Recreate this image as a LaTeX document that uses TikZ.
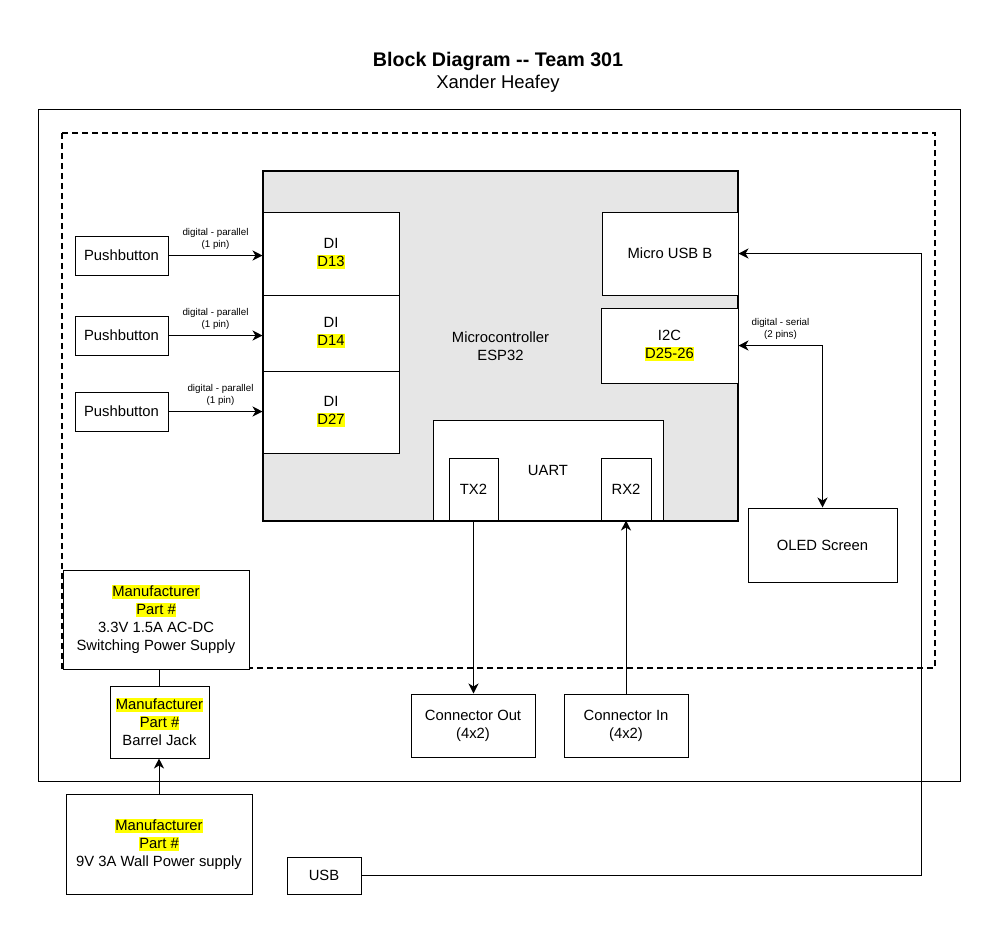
\documentclass[tikz,border=0pt]{standalone}
\usepackage{fontspec}
\setmainfont{Liberation Sans}
\usetikzlibrary{arrows.meta}
\definecolor{mcugray}{HTML}{E6E6E6}
\definecolor{hlyellow}{HTML}{FFFF00}
\newcommand{\hlt}[1]{{\setlength{\fboxsep}{0pt}\colorbox{hlyellow}{\rule[-2.5pt]{0pt}{14pt}#1}}}

\begin{document}
\begin{tikzpicture}[x=1pt,y=-1pt,
  box/.style={draw,line width=1pt,fill=white,inner sep=0pt,align=center,font=\fontsize{14.8}{18}\selectfont},
  lbl/.style={font=\fontsize{9.8}{12}\selectfont,align=center,inner sep=0pt},
  arr/.style={line width=1pt,-{Stealth[length=10pt,width=10pt,inset=3pt]}},
  arrboth/.style={line width=1pt,{Stealth[length=10pt,width=10pt,inset=3pt]}-{Stealth[length=10pt,width=10pt,inset=3pt]}}]

\useasboundingbox (0,0) rectangle (998,930);

\node[font=\fontsize{19.7}{22}\selectfont\bfseries] (title) at (498,61) {Block Diagram -{}- Team 301};
\node[font=\fontsize{18.5}{22}\selectfont] (author) at (498,84) {Xander Heafey};

\draw[line width=1pt] (38,109) rectangle (960,781);
\draw[line width=2pt,dash pattern=on 6pt off 4pt] (62,133) rectangle (935,668);

% microcontroller and its pins
\node[box,fill=mcugray,line width=2pt,minimum width=475pt,minimum height=350pt] (mcu) at (500.5,346) {Microcontroller\\ESP32};
\node[box,minimum width=136pt,minimum height=83pt] (di1) at (331,253.5) {DI\\\hlt{D13}};
\node[box,minimum width=136pt,minimum height=76pt] (di2) at (331,333) {DI\\\hlt{D14}};
\node[box,minimum width=136pt,minimum height=82pt] (di3) at (331,412) {DI\\\hlt{D27}};
\node[box,minimum width=136pt,minimum height=83pt] (usbb) at (670,253.5) {Micro USB B};
\node[box,minimum width=137pt,minimum height=75pt] (itc) at (669.5,345.5) {I2C\\\hlt{D25-26}};
\node[box,minimum width=230pt,minimum height=100pt] (uart) at (548,470) {UART};
\node[box,minimum width=49pt,minimum height=62pt] (tx) at (473.5,489) {TX2};
\node[box,minimum width=50pt,minimum height=62pt] (rx) at (626,489) {RX2};

% peripherals
\node[box,minimum width=93pt,minimum height=39pt] (pb1) at (121.5,255.5) {Pushbutton};
\node[box,minimum width=93pt,minimum height=39pt] (pb2) at (121.5,335.5) {Pushbutton};
\node[box,minimum width=93pt,minimum height=39pt] (pb3) at (121.5,411.5) {Pushbutton};
\node[box,minimum width=149pt,minimum height=74pt] (oled) at (822.5,545) {OLED Screen};
\node[box,minimum width=124pt,minimum height=63pt] (conout) at (473,725.5) {Connector Out\\(4x2)};
\node[box,minimum width=124pt,minimum height=63pt] (conin) at (626,725.5) {Connector In\\(4x2)};

% power
\node[box,minimum width=186pt,minimum height=99pt] (psu) at (156,619.5) {\hlt{Manufacturer}\\\hlt{Part \#}\\3.3V 1.5A AC-DC\\Switching Power Supply};
\node[box,minimum width=99pt,minimum height=72pt] (jack) at (159.5,722) {\hlt{Manufacturer}\\\hlt{Part \#}\\Barrel Jack};
\node[box,minimum width=186pt,minimum height=100pt] (wall) at (159,844) {\hlt{Manufacturer}\\\hlt{Part \#}\\9V 3A Wall Power supply};
\node[box,minimum width=74pt,minimum height=37pt] (usb) at (324,875.5) {USB};

% connectors
\draw[arr] (pb1.east) -- node[lbl,above=5pt]{digital - parallel\\(1 pin)} (pb1.east -| di1.west);
\draw[arr] (pb2.east) -- node[lbl,above=5pt]{digital - parallel\\(1 pin)} (pb2.east -| di2.west);
\draw[arr] (pb3.east) -- node[lbl,above=5pt,xshift=5pt]{digital - parallel\\(1 pin)} (pb3.east -| di3.west);
\draw[arrboth] (itc.east) -- node[lbl,above=5pt]{digital - serial\\(2 pins)} (itc.east -| oled.north) -- (oled.north);
\coordinate (usbturn) at (921,875.5);
\draw[arr] (usb.east) -- (usbturn) |- (usbb.east);
\draw[arr] (tx.south) -- (tx.south |- conout.north);
\draw[arr] (conin.north) -- (conin.north |- rx.south);
\draw[line width=1pt] (jack.north |- psu.south) -- (jack.north);
\draw[arr] (wall.north) -- (wall.north |- jack.south);

\end{tikzpicture}
\end{document}
